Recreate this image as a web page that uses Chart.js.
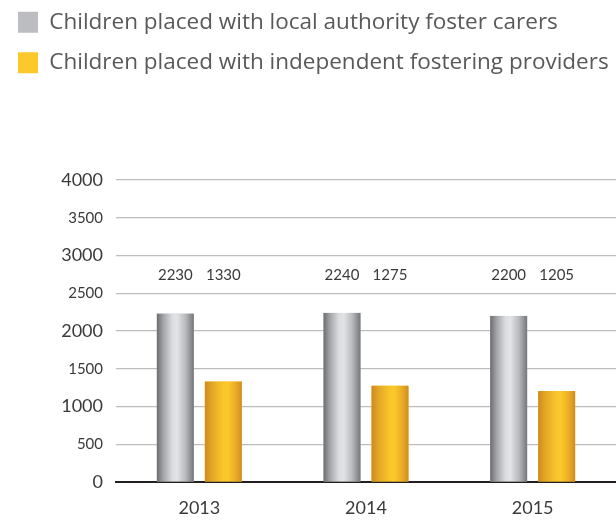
<!DOCTYPE html>
<html>
<head>
<meta charset="utf-8">
<script src="https://cdn.jsdelivr.net/npm/chart.js@4.4.1/dist/chart.umd.min.js"></script>
<style>
html,body{margin:0;padding:0;background:#fff;}
#wrap{width:616px;height:520px;position:relative;}
</style>
</head>
<body>
<div id="wrap"><canvas id="c" width="616" height="520"></canvas></div>
<script>
const categories = ['2013', '2014', '2015'];
const seriesNames = ['Children placed with local authority foster carers', 'Children placed with independent fostering providers'];
const localAuthority = [2230, 2240, 2200];
const independent = [1330, 1275, 1205];
const yTicks = [0, 500, 1000, 1500, 2000, 2500, 3000, 3500, 4000];
const labelLevel = 2740;

const FONT = 'Lato, "Open Sans", sans-serif';
const LEGEND_FONT = '"Open Sans", Lato, sans-serif';
const TEXT = '#3a3a3c';

const gradientStops = [
  [[0, '#6c6d70'], [0.18, '#a5a6a9'], [0.42, '#dcdde0'], [0.55, '#e2e3e5'], [0.78, '#b8b9bc'], [1, '#75767a']],
  [[0, '#cf8a1e'], [0.2, '#e3a827'], [0.5, '#f9c62a'], [0.62, '#fbc92a'], [0.85, '#e8a926'], [1, '#d08d20']]
];

const gradientBars = {
  id: 'gradientBars',
  afterDatasetsDraw(chart) {
    const ctx = chart.ctx;
    chart.data.datasets.forEach((ds, di) => {
      const meta = chart.getDatasetMeta(di);
      meta.data.forEach(el => {
        const left = el.x - el.width / 2;
        const g = ctx.createLinearGradient(left, 0, left + el.width, 0);
        gradientStops[di].forEach(s => g.addColorStop(s[0], s[1]));
        ctx.save();
        ctx.fillStyle = g;
        ctx.fillRect(left, el.y, el.width, el.base - el.y);
        ctx.restore();
      });
    });
  }
};

const valueLabels = {
  id: 'valueLabels',
  afterDatasetsDraw(chart) {
    const ctx = chart.ctx;
    const y = chart.scales.y.getPixelForValue(labelLevel);
    ctx.save();
    ctx.font = '15px ' + FONT;
    ctx.fillStyle = TEXT;
    ctx.textAlign = 'center';
    ctx.textBaseline = 'middle';
    chart.data.datasets.forEach((ds, di) => {
      chart.getDatasetMeta(di).data.forEach((el, i) => {
        ctx.fillText(String(ds.data[i]), el.x, y);
      });
    });
    ctx.restore();
  }
};

const legendGap = {
  id: 'legendGap',
  beforeInit(chart) {
    const origFit = chart.legend.fit;
    chart.legend.fit = function () {
      origFit.bind(chart.legend)();
      this.height += 96;
    };
  }
};

new Chart(document.getElementById('c'), {
  type: 'bar',
  data: {
    labels: categories,
    datasets: [
      { label: seriesNames[0], data: localAuthority, backgroundColor: '#bcbdc0', borderWidth: 0 },
      { label: seriesNames[1], data: independent, backgroundColor: '#fdc82a', borderWidth: 0 }
    ]
  },
  options: {
    responsive: false,
    animation: false,
    devicePixelRatio: 1,
    layout: { padding: { left: 0, right: 0, top: -7, bottom: 0 } },
    datasets: { bar: { categoryPercentage: 0.576, barPercentage: 0.77 } },
    plugins: {
      tooltip: { enabled: false },
      legend: {
        position: 'top',
        align: 'start',
        labels: {
          boxWidth: 20,
          boxHeight: 21,
          padding: 18,
          color: '#58595b',
          font: { family: LEGEND_FONT, size: 22.5 }
        }
      }
    },
    scales: {
      x: {
        afterFit(s) { s.height = 38; },
        grid: { display: false, drawTicks: false },
        border: { display: true, color: '#231f20', width: 2 },
        ticks: { color: TEXT, font: { family: FONT, size: 18 }, padding: 15 }
      },
      y: {
        min: 0,
        max: 4000,
        afterFit(s) { s.width = 116; },
        afterBuildTicks(s) { s.ticks = yTicks.map(v => ({ value: v })); },
        grid: { color: '#bdbdbd', lineWidth: 1.2, drawTicks: false },
        border: { display: false },
        ticks: {
          color: TEXT,
          padding: 13,
          callback: v => String(v),
          font: c => ({ family: FONT, size: (c.tick && c.tick.value % 1000 === 0) ? 18 : 15 })
        }
      }
    }
  },
  plugins: [gradientBars, valueLabels, legendGap]
});
</script>
</body>
</html>
